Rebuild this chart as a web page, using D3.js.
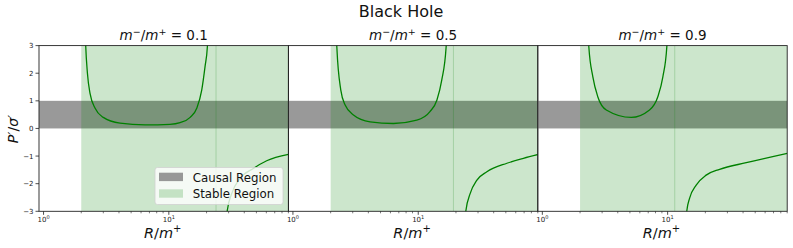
<!DOCTYPE html>
<html>
<head>
<meta charset="utf-8">
<script src="https://cdn.jsdelivr.net/npm/d3@7"></script>
<style>
  body { margin: 0; background: #fff; }
  svg { display: block; font-family: "DejaVu Sans", sans-serif; }
</style>
</head>
<body>
<svg id="chart" width="793" height="248"></svg>
<script>
// mass ratios m-/m+ for the three panels
const ratios = ["0.1", "0.5", "0.9"];
const horizon = 2;                 // stable region starts at R = 2 m+
const poles = [23.8, 19.1, 11.4];  // where the two stable spans meet
const causalBand = [0, 1];

// P'/sigma', [R/m+, value]
const innerBranches = [
    [[2.12, 4.5], [2.17, 3.0], [2.24, 2.0], [2.35, 1.27], [2.58, 0.73], [3.0, 0.40], [4.08, 0.19],
     [6.46, 0.13], [10.2, 0.15], [12.3, 0.21], [14.8, 0.40], [16.7, 0.73], [18.3, 1.39],
     [19.45, 2.24], [20.3, 2.96], [20.8, 4.5]],
    [[2.19, 4.5], [2.24, 2.96], [2.41, 1.39], [2.61, 0.85], [3.04, 0.49], [4.13, 0.24], [6.34, 0.18],
     [9.74, 0.30], [12.4, 0.61], [14.1, 1.03], [15.4, 1.75], [16.7, 2.96], [17.1, 4.5]],
    [[2.3, 4.5], [2.35, 2.96], [2.53, 1.87], [2.77, 1.15], [3.24, 0.67], [5.12, 0.40], [7.17, 0.67],
     [8.35, 1.15], [9.16, 1.87], [9.85, 2.96], [10.1, 4.5]]
];
const outerBranches = [
    [[28.0, -4.5], [29.3, -2.96], [31.8, -2.35], [37.0, -1.81], [47.2, -1.45], [60.4, -1.17], [90, -0.94]],
    [[23.2, -4.5], [24.0, -2.98], [26.0, -2.35], [29.4, -1.87], [35.3, -1.57], [51.0, -1.26],
     [69.1, -1.08], [91, -0.94]],
    [[13.8, -4.5], [14.23, -2.98], [14.96, -2.53], [16.9, -2.05], [20.3, -1.69], [26.0, -1.48],
     [42.4, -1.24], [90.1, -0.90]]
];

const yTicks = [-3, -2, -1, 0, 1, 2, 3];
const xMajor = [1, 10];
const xMinor = [2, 3, 4, 5, 6, 7, 8, 9, 20, 30, 40, 50, 60, 70, 80, 90];
const legendItems = ["Causal Region", "Stable Region"];

const svg = d3.select("#chart");
const panelLeft = 39, panelW = 249.4, plotTop = 45.6, plotBottom = 211.3;

const x = d3.scaleLog().domain([0.92, 90]).range([0, panelW]);
const y = d3.scaleLinear().domain([-3, 3]).range([plotBottom, plotTop]);

const grey = "rgba(128,128,128,0.8)";
const lightGreen = "rgba(0,128,0,0.2)";

ratios.forEach((ratio, i) => {
    const g = svg.append("g").attr("transform", `translate(${panelLeft + i * panelW},0)`);
    const clipId = "clip" + i;
    svg.append("clipPath").attr("id", clipId)
        .append("rect").attr("x", 0).attr("y", plotTop).attr("width", panelW).attr("height", plotBottom - plotTop);

    const plot = g.append("g").attr("clip-path", `url(#${clipId})`);

    // causal band
    plot.append("rect")
        .attr("x", 0).attr("width", panelW)
        .attr("y", y(causalBand[1])).attr("height", y(causalBand[0]) - y(causalBand[1]))
        .attr("fill", grey);

    // stable spans
    const spans = [[horizon, poles[i]], [poles[i], 200]];
    spans.forEach(s => {
        plot.append("rect")
            .attr("x", x(s[0])).attr("width", x(s[1]) - x(s[0]))
            .attr("y", plotTop).attr("height", plotBottom - plotTop)
            .attr("fill", lightGreen);
    });
    plot.append("line")
        .attr("x1", x(poles[i])).attr("x2", x(poles[i]))
        .attr("y1", plotTop).attr("y2", plotBottom)
        .attr("stroke", lightGreen).attr("stroke-width", 1);

    const line = d3.line()
        .x(d => x(d[0])).y(d => y(d[1]))
        .curve(d3.curveMonotoneX);

    [innerBranches[i], outerBranches[i]].forEach(br => {
        plot.append("path").datum(br)
            .attr("d", line)
            .attr("fill", "none")
            .attr("stroke", "green")
            .attr("stroke-width", 1.3);
    });

    // frame
    g.append("rect")
        .attr("x", 0).attr("y", plotTop).attr("width", panelW).attr("height", plotBottom - plotTop)
        .attr("fill", "none").attr("stroke", "#222").attr("stroke-width", 0.9);

    // x ticks
    const xt = g.append("g");
    xMajor.forEach(v => {
        xt.append("line").attr("x1", x(v)).attr("x2", x(v))
            .attr("y1", plotBottom).attr("y2", plotBottom + 3.5).attr("stroke", "#222").attr("stroke-width", 0.8);
        const t = xt.append("text").attr("x", x(v)).attr("y", plotBottom + 10.8)
            .attr("text-anchor", "middle").attr("font-size", 7).attr("fill", "#222");
        t.append("tspan").text("10");
        t.append("tspan").attr("dy", -2.8).attr("font-size", 5).text(Math.log10(v));
    });
    xMinor.forEach(v => {
        if (v > x.domain()[1]) return;
        xt.append("line").attr("x1", x(v)).attr("x2", x(v))
            .attr("y1", plotBottom).attr("y2", plotBottom + 2).attr("stroke", "#222").attr("stroke-width", 0.6);
    });

    // panel title
    const st = g.append("text").attr("x", panelW / 2).attr("y", 40)
        .attr("text-anchor", "middle").attr("font-size", 13.5).attr("fill", "#111");
    st.append("tspan").attr("font-style", "italic").text("m");
    st.append("tspan").attr("dy", -5.2).attr("font-size", 9.5).text("\u2212");
    st.append("tspan").attr("dy", 5.2).text("/");
    st.append("tspan").attr("font-style", "italic").text("m");
    st.append("tspan").attr("dy", -5.2).attr("font-size", 9.5).text("+");
    st.append("tspan").attr("dy", 5.2).text(" = " + ratio);

    // x label
    const xl = g.append("text").attr("x", panelW / 2 - 1).attr("y", 238)
        .attr("text-anchor", "middle").attr("font-size", 14.5).attr("fill", "#111");
    xl.append("tspan").attr("font-style", "italic").text("R");
    xl.append("tspan").text("/");
    xl.append("tspan").attr("font-style", "italic").text("m");
    xl.append("tspan").attr("dy", -6).attr("font-size", 10).text("+");

    if (i === 0) {
        const yt = g.append("g");
        yTicks.forEach(v => {
            yt.append("line").attr("x1", -3.5).attr("x2", 0)
                .attr("y1", y(v)).attr("y2", y(v)).attr("stroke", "#222").attr("stroke-width", 0.8);
            yt.append("text").attr("x", -5.5).attr("y", y(v) + 2.5)
                .attr("text-anchor", "end").attr("font-size", 7).attr("fill", "#222")
                .text(v < 0 ? "\u2212" + (-v) : v);
        });

        // legend
        const lg = g.append("g").attr("transform", "translate(116,167.5)");
        lg.append("rect").attr("width", 128).attr("height", 37).attr("rx", 2.5)
            .attr("fill", "rgba(255,255,255,0.8)").attr("stroke", "#d0d0d0").attr("stroke-width", 0.8);
        legendItems.forEach((name, k) => {
            lg.append("rect").attr("x", 4).attr("y", 5.2 + k * 16.6).attr("width", 24).attr("height", 8.4)
                .attr("fill", k === 0 ? grey : lightGreen);
            lg.append("text").attr("x", 37.7).attr("y", 14 + k * 16.6)
                .attr("font-size", 11.8).attr("fill", "#111").text(name);
        });
    }
});

// y label
const yl = svg.append("text")
    .attr("transform", "translate(18,129) rotate(-90)")
    .attr("text-anchor", "middle").attr("font-size", 14).attr("fill", "#111");
yl.append("tspan").attr("font-style", "italic").text("P\u2032");
yl.append("tspan").text("/");
yl.append("tspan").attr("font-style", "italic").text("\u03c3\u2032");

// suptitle
svg.append("text").attr("x", 401).attr("y", 17.3)
    .attr("text-anchor", "middle").attr("font-size", 16).attr("fill", "#111")
    .text("Black Hole");
</script>
</body>
</html>
